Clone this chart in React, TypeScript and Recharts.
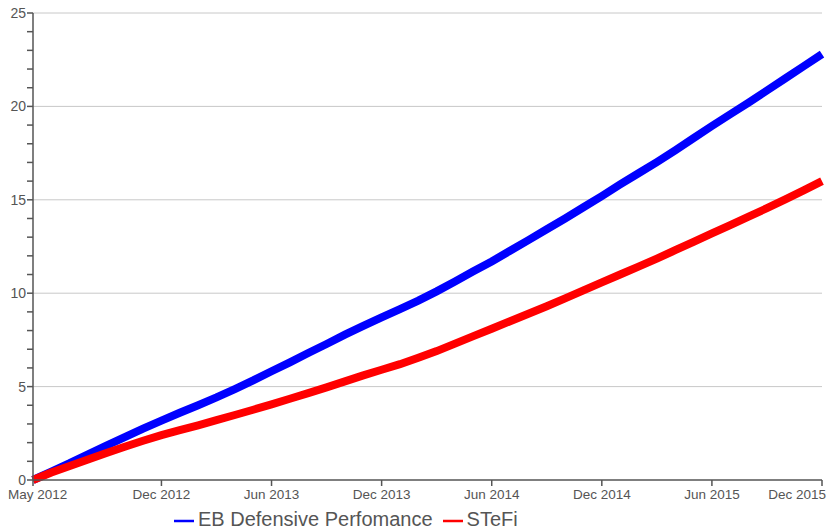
import { CartesianGrid, Legend, Line, LineChart, XAxis, YAxis } from 'recharts';

const months = [
  'May 2012', 'Jun 2012', 'Jul 2012', 'Aug 2012', 'Sep 2012', 'Oct 2012', 'Nov 2012', 'Dec 2012',
  'Jan 2013', 'Feb 2013', 'Mar 2013', 'Apr 2013', 'May 2013', 'Jun 2013', 'Jul 2013', 'Aug 2013',
  'Sep 2013', 'Oct 2013', 'Nov 2013', 'Dec 2013', 'Jan 2014', 'Feb 2014', 'Mar 2014', 'Apr 2014',
  'May 2014', 'Jun 2014', 'Jul 2014', 'Aug 2014', 'Sep 2014', 'Oct 2014', 'Nov 2014', 'Dec 2014',
  'Jan 2015', 'Feb 2015', 'Mar 2015', 'Apr 2015', 'May 2015', 'Jun 2015', 'Jul 2015', 'Aug 2015',
  'Sep 2015', 'Oct 2015', 'Nov 2015', 'Dec 2015',
];

const ebDefensive = [
  0, 0.45, 0.9, 1.38, 1.84, 2.3, 2.75, 3.18, 3.6, 4.0, 4.42, 4.87, 5.33, 5.82, 6.3, 6.8,
  7.28, 7.78, 8.25, 8.7, 9.15, 9.6, 10.1, 10.63, 11.17, 11.7, 12.27, 12.84, 13.42, 14.0, 14.6, 15.2,
  15.82, 16.42, 17.02, 17.65, 18.3, 18.95, 19.58, 20.2, 20.85, 21.5, 22.15, 22.8,
];

const stefi = [
  0, 0.4, 0.75, 1.1, 1.45, 1.78, 2.1, 2.4, 2.67, 2.93, 3.2, 3.48, 3.76, 4.05, 4.35, 4.65,
  4.96, 5.28, 5.6, 5.9, 6.2, 6.55, 6.9, 7.3, 7.7, 8.1, 8.5, 8.9, 9.3, 9.72, 10.15, 10.58,
  11.0, 11.42, 11.85, 12.3, 12.75, 13.2, 13.65, 14.1, 14.55, 15.02, 15.5, 16.0,
];

const xTicks = [0, 7, 13, 19, 25, 31, 37, 43];
const yTicks = Array.from({ length: 26 }, (_, i) => i);
const yLabelled = [0, 5, 10, 15, 20, 25];

const data = months.map((m, i) => ({ idx: i, month: m, eb: ebDefensive[i], stefi: stefi[i] }));

const axisColor = '#555';
const font = '"Liberation Sans", Arial, sans-serif';

function YTick(props: any) {
  const { x, y, payload } = props;
  const show = yLabelled.includes(payload.value);
  return (
    <g>
      <line x1={x + 2} x2={x + 8} y1={y} y2={y} stroke={axisColor} strokeWidth={1.5} />
      {show && (
        <text x={x + 1} y={y} dy={5} textAnchor="end" fill={axisColor} fontSize={14} fontFamily={font}>
          {payload.value}
        </text>
      )}
    </g>
  );
}

// first and last labels are pushed inside the chart edges, like the original
function XTick(props: any) {
  const { x, y, payload } = props;
  const v = payload.value;
  let anchor: 'start' | 'middle' | 'end' = 'middle';
  let tx = x;
  if (v === xTicks[0]) {
    anchor = 'start';
    tx = 8;
  } else if (v === xTicks[xTicks.length - 1]) {
    anchor = 'end';
    tx = 826;
  }
  return (
    <text x={tx} y={y} dy={11} textAnchor={anchor} fill={axisColor} fontSize={13.5} fontFamily={font}>
      {months[v]}
    </text>
  );
}

export default function App() {
  return (
    <div style={{ position: 'absolute', left: 0, top: 0, background: '#fff' }}>
      <LineChart width={827} height={531} data={data} margin={{ top: 13, right: 5, left: 0, bottom: 7 }}>
        <CartesianGrid vertical={false} stroke="#c8c8c8" horizontalValues={[5, 10, 15, 20, 25]} />
        <XAxis
          dataKey="idx"
          type="number"
          domain={[0, 43]}
          ticks={xTicks}
          stroke={axisColor}
          strokeWidth={1.5}
          tickSize={6}
          tick={<XTick />}
          height={20}
          interval={0}
        />
        <YAxis
          type="number"
          domain={[0, 25]}
          ticks={yTicks}
          interval={0}
          width={33}
          stroke={axisColor}
          strokeWidth={1.5}
          tickLine={false}
          tick={<YTick />}
        />
        <Legend
          height={24}
          align="left"
          iconType="plainline"
          iconSize={20}
          wrapperStyle={{ fontFamily: font, fontSize: 20, lineHeight: '22px', color: axisColor, left: 174, top: 508, width: 'auto' }}
          formatter={(value: string) => <span style={{ color: axisColor }}>{value}</span>}
        />
        <Line
          dataKey="eb"
          name="EB Defensive Perfomance"
          stroke="#0000ff"
          strokeWidth={8}
          dot={false}
          type="linear"
          isAnimationActive={false}
        />
        <Line
          dataKey="stefi"
          name="STeFi"
          stroke="#ff0000"
          strokeWidth={8}
          dot={false}
          type="linear"
          isAnimationActive={false}
        />
      </LineChart>
    </div>
  );
}
